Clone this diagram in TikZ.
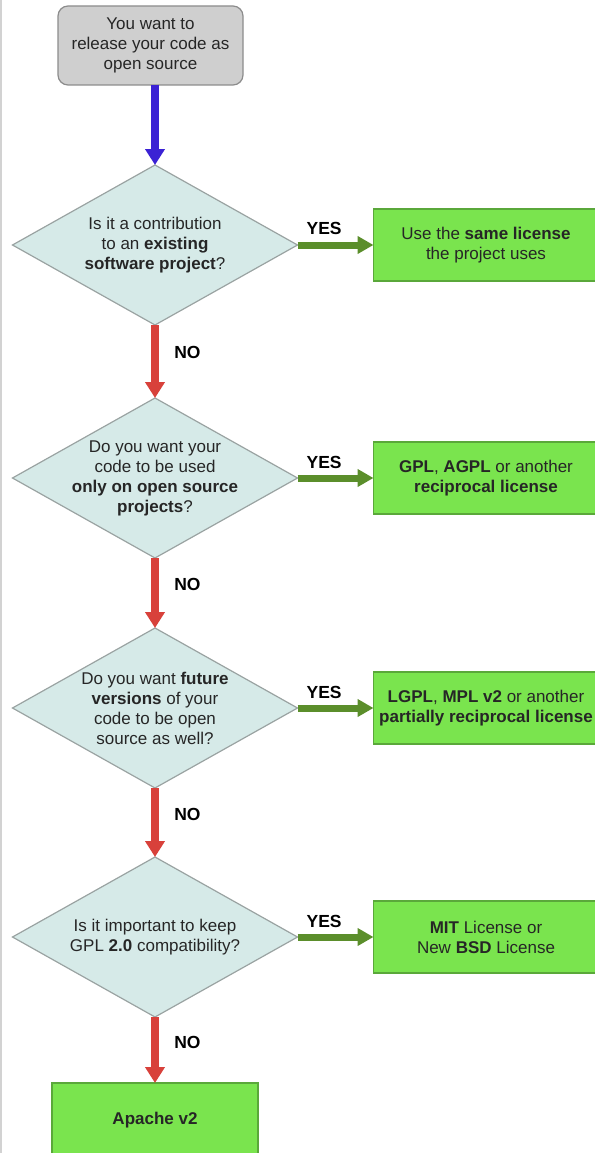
\documentclass[tikz,border=0pt]{standalone}
\usepackage{fontspec}
\setmainfont{Liberation Sans}
\usepackage{tikz}
\usetikzlibrary{positioning}
\usetikzlibrary{shapes.geometric}
\usetikzlibrary{arrows.meta}

\definecolor{startfill}{HTML}{CFCFCF}
\definecolor{startedge}{HTML}{8C8C8C}
\definecolor{qfill}{HTML}{D6EAE8}
\definecolor{qedge}{HTML}{9AA3A2}
\definecolor{ansfill}{HTML}{7AE44E}
\definecolor{ansedge}{HTML}{5AA83A}
\definecolor{startblue}{HTML}{3B22D4}
\definecolor{nored}{HTML}{D8413B}
\definecolor{yesgreen}{HTML}{5B8E2B}

\begin{document}
\begin{tikzpicture}[x=1pt, y=-1pt,
  every node/.style={font=\fontsize{17}{20}\selectfont, text=black!85},
  startbox/.style={draw=startedge, fill=startfill, line width=1.2pt, rounded corners=10pt,
    minimum width=185pt, minimum height=79pt, align=center, inner sep=0pt, outer sep=0pt},
  question/.style={diamond, draw=qedge, fill=qfill, line width=1.2pt,
    minimum width=285pt, minimum height=160pt, inner sep=0pt, outer sep=0pt},
  qtext/.style={align=center, inner sep=0pt},
  answer/.style={draw=ansedge, fill=ansfill, line width=1.2pt,
    minimum width=225pt, minimum height=72pt, align=center, inner sep=0pt, outer sep=0pt},
  flow/.style={line width=8pt, -{Triangle[length=16pt, width=19pt]}},
  yesflow/.style={line width=7pt, yesgreen, -{Triangle[length=16pt, width=17pt]}},
  choice/.style={font=\bfseries\fontsize{17.5}{20}\selectfont, text=black}]
  \useasboundingbox (0,0) rectangle (594,1153);
  \draw [gray!35, line width=1.5pt] (1,0) -- (1,1153);

  \node [startbox] (start) at (150.5,45.5) {You want to\\release your code as\\open source};

  \node [question] (q1) at (155,245) {};
  \node [qtext] (q1t) at (q1) {Is it a contribution\\to an \textbf{existing}\\\textbf{software project}?};
  \node [answer, right=76pt of q1] (a1) {Use the \textbf{same license}\\the project uses};

  \node [question] (q2) at (155,478) {};
  \node [qtext] (q2t) at (q2) {Do you want your\\code to be used\\\textbf{only on open source}\\\textbf{projects}?};
  \node [answer, right=76pt of q2] (a2) {\textbf{GPL}, \textbf{AGPL} or another\\\textbf{reciprocal license}};

  \node [question] (q3) at (155,708) {};
  \node [qtext] (q3t) at (q3) {Do you want \textbf{future}\\\textbf{versions} of your\\code to be open\\source as well?};
  \node [answer, right=76pt of q3] (a3) {\textbf{LGPL}, \textbf{MPL v2} or another\\\textbf{partially reciprocal license}};

  \node [question] (q4) at (155,937) {};
  \node [qtext] (q4t) at (q4) {Is it important to keep\\GPL \textbf{2.0} compatibility?};
  \node [answer, right=76pt of q4] (a4) {\textbf{MIT} License or\\New \textbf{BSD} License};

  \node [answer, minimum width=206pt, minimum height=74pt, below=66pt of q4] (a5) {\textbf{Apache v2}};

  \draw [flow, startblue] (start.south -| q1.north) -- (q1.north);
  \draw [yesflow] (q1.east) -- (a1.west) node [pos=0.35, above=3pt, choice] (y1) {YES};
  \draw [flow, nored] (q1.south) -- (q2.north) node [pos=0.38, right=12pt, choice] (n1) {NO};
  \draw [yesflow] (q2.east) -- (a2.west) node [pos=0.35, above=3pt, choice] (y2) {YES};
  \draw [flow, nored] (q2.south) -- (q3.north) node [pos=0.38, right=12pt, choice] (n2) {NO};
  \draw [yesflow] (q3.east) -- (a3.west) node [pos=0.35, above=3pt, choice] (y3) {YES};
  \draw [flow, nored] (q3.south) -- (q4.north) node [pos=0.38, right=12pt, choice] (n3) {NO};
  \draw [yesflow] (q4.east) -- (a4.west) node [pos=0.35, above=3pt, choice] (y4) {YES};
  \draw [flow, nored] (q4.south) -- (a5.north) node [pos=0.38, right=12pt, choice] (n4) {NO};
\end{tikzpicture}
\end{document}
